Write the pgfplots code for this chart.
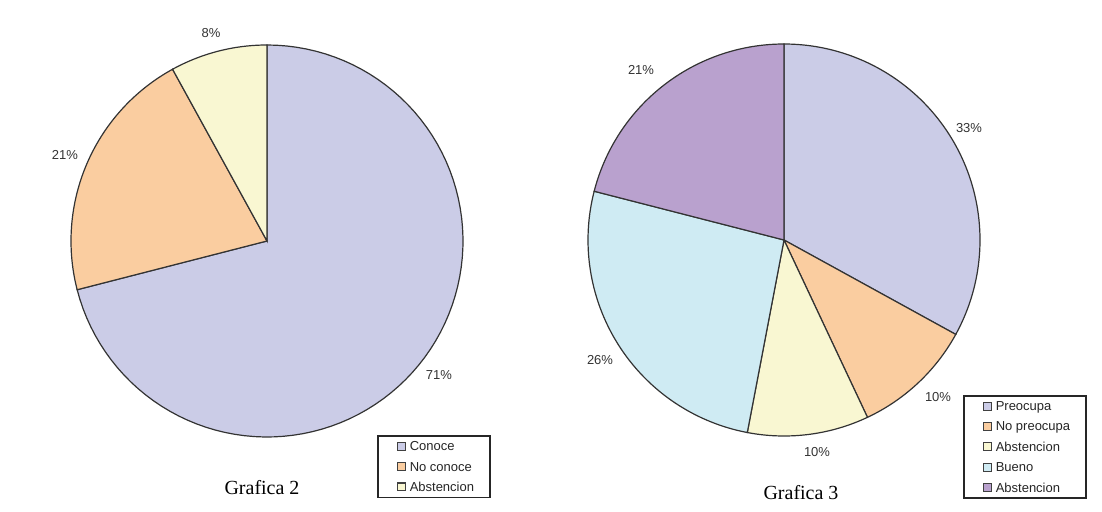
\documentclass[border=0pt]{standalone}
\usepackage{pgfplots}
\pgfplotsset{compat=1.18}
\usepackage{fontspec}
\setmainfont{Liberation Serif}
\setsansfont{Liberation Sans}

\definecolor{cLav}{RGB}{203,204,231}
\definecolor{cPeach}{RGB}{250,205,160}
\definecolor{cCream}{RGB}{249,247,210}
\definecolor{cSky}{RGB}{207,235,243}
\definecolor{cPurple}{RGB}{185,161,206}

% one slice: centre x, centre y, from %, to %, colour  (radius 196 px, clockwise from 12 o'clock)
\newcommand{\slice}[5]{%
  \addplot[draw=black!80, line width=0.6pt, fill=#5, domain=#3:#4, samples=90]
    ({#1+196*sin(3.6*x)},{#2-196*cos(3.6*x)}) -- (axis cs:#1,#2) -- cycle;
}

\pgfplotsset{
  pane/.style={
    scale only axis, width=275.5pt, height=256pt,
    ymin=0, ymax=512, y dir=reverse, hide axis, clip=false,
    legend cell align=left,
    legend image code/.code={%
      \path (-3.5pt,0pt);
      \draw[##1, draw=black!75, line width=0.55pt] (0pt,-1.95pt) rectangle (3.9pt,1.95pt);},
    legend style={draw=black!85, line width=0.8pt, anchor=north west,
      font=\sffamily\fontsize{6.5}{7}\selectfont, text=black!85,
      inner xsep=6pt, inner ysep=1pt, row sep=1.6pt,
      nodes={inner sep=2pt, text depth=0pt}},
  },
}
\tikzset{
  lbl/.style={font=\sffamily\fontsize{6.5}{7}\selectfont, text=black!80},
  ttl/.style={font=\fontsize{10}{12}\selectfont},
}

\begin{document}
\begin{tikzpicture}
\useasboundingbox (0,0) rectangle (551pt,256pt);

% Grafica 2
\begin{axis}[pane, xmin=0, xmax=551,
  legend style={at={(axis cs:377,435)}}]
\slice{267}{241}{0}{71}{cLav}
\addlegendentry{Conoce}
\slice{267}{241}{71}{92}{cPeach}
\addlegendentry{No conoce}
\slice{267}{241}{92}{100}{cCream}
\addlegendentry{Abstencion}
\node[lbl] at (axis cs:211,33) {8\%};
\node[lbl] at (axis cs:65,155) {21\%};
\node[lbl] at (axis cs:439,375) {71\%};
\node[ttl] at (axis cs:262,488) {Grafica 2};
\end{axis}

% Grafica 3
\begin{axis}[pane, at={(275.5pt,0pt)}, xmin=551, xmax=1102,
  legend style={at={(axis cs:963,395)}}]
\slice{784}{240}{0}{33}{cLav}
\addlegendentry{Preocupa}
\slice{784}{240}{33}{43}{cPeach}
\addlegendentry{No preocupa}
\slice{784}{240}{43}{53}{cCream}
\addlegendentry{Abstencion}
\slice{784}{240}{53}{79}{cSky}
\addlegendentry{Bueno}
\slice{784}{240}{79}{100}{cPurple}
\addlegendentry{Abstencion}
\node[lbl] at (axis cs:641,70) {21\%};
\node[lbl] at (axis cs:969,128) {33\%};
\node[lbl] at (axis cs:938,397) {10\%};
\node[lbl] at (axis cs:817,452) {10\%};
\node[lbl] at (axis cs:600,360) {26\%};
\node[ttl] at (axis cs:801,493) {Grafica 3};
\end{axis}
\end{tikzpicture}
\end{document}
